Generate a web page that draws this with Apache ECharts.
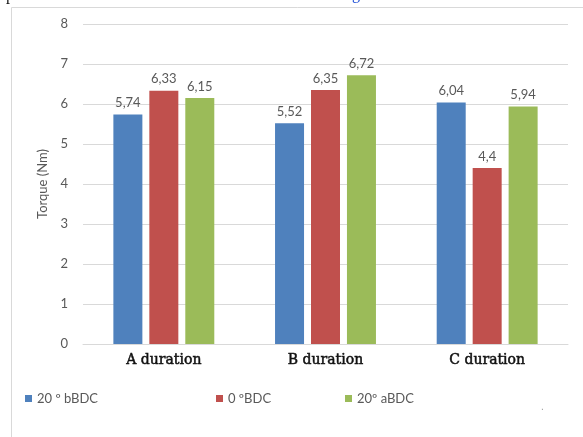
<!DOCTYPE html>
<html>
<head>
<meta charset="utf-8">
<script src="https://cdn.jsdelivr.net/npm/echarts@6/dist/echarts.min.js"></script>
<style>
  html, body { margin: 0; padding: 0; background: #fff; }
  #chart { width: 583px; height: 437px; }
</style>
</head>
<body>
<div id="chart"></div>
<script>
// Torque per injection duration for three timing settings
var categories = ['A duration', 'B duration', 'C duration'];
var seriesNames = ['20 \u00ba bBDC', '0 \u00baBDC', '20\u00ba aBDC'];
var bBDC20 = [5.74, 5.52, 6.04];
var BDC0 = [6.33, 6.35, 4.4];
var aBDC20 = [6.15, 6.72, 5.94];
var yTicks = [0, 1, 2, 3, 4, 5, 6, 7, 8];

var colors = ['#4f81bd', '#c0504d', '#9bbb59'];
var sans = 'Lato, "Open Sans", sans-serif';

function commaLabel(p) {
  return String(p.value).replace('.', ',');
}

function barSeries(name, values, color) {
  return {
    name: name,
    type: 'bar',
    data: values,
    barWidth: 29,
    barGap: '24%',
    itemStyle: { color: color },
    label: {
      show: true,
      position: 'top',
      distance: 5,
      color: '#595959',
      fontFamily: sans,
      fontSize: 13,
      formatter: commaLabel
    }
  };
}

function legendAt(left, name) {
  return {
    left: left,
    top: 392,
    data: [name],
    icon: 'rect',
    itemWidth: 7,
    itemHeight: 7,
    itemGap: 0,
    textStyle: { color: '#595959', fontFamily: sans, fontSize: 13, padding: [0, 0, 0, 0] },
    padding: 0
  };
}

var chart = echarts.init(document.getElementById('chart'));
chart.setOption({
  animation: false,
  backgroundColor: '#ffffff',
  grid: { left: 83, right: 15, top: 24, bottom: 93 },
  legend: [
    legendAt(25, seriesNames[0]),
    legendAt(216, seriesNames[1]),
    legendAt(345, seriesNames[2])
  ],
  xAxis: {
    type: 'category',
    data: categories,
    axisLine: { lineStyle: { color: '#d9d9d9', width: 1 } },
    axisTick: { show: false },
    axisLabel: {
      color: '#111111',
      fontFamily: '"DejaVu Serif", serif',
      fontSize: 14,
      fontWeight: 'normal',
      textBorderColor: '#111111',
      textBorderWidth: 0.5,
      margin: 9
    }
  },
  yAxis: {
    type: 'value',
    min: yTicks[0],
    max: yTicks[yTicks.length - 1],
    interval: 1,
    name: 'Torque (Nm)',
    nameLocation: 'middle',
    nameGap: 34,
    nameTextStyle: { color: '#595959', fontFamily: sans, fontSize: 13 },
    axisLine: { show: false },
    axisTick: { show: false },
    axisLabel: { color: '#595959', fontFamily: sans, fontSize: 13, margin: 15 },
    splitLine: { lineStyle: { color: '#d9d9d9', width: 1 } }
  },
  series: [
    barSeries(seriesNames[0], bBDC20, colors[0]),
    barSeries(seriesNames[1], BDC0, colors[1]),
    barSeries(seriesNames[2], aBDC20, colors[2])
  ],
  graphic: [
    // frame of the chart area
    { type: 'line', shape: { x1: 11.5, y1: 7.5, x2: 583, y2: 7.5 }, style: { stroke: '#d9d9d9', lineWidth: 1 } },
    { type: 'line', shape: { x1: 11.5, y1: 7.5, x2: 11.5, y2: 437 }, style: { stroke: '#d9d9d9', lineWidth: 1 } },
    // text running above the frame
    { type: 'text', left: 6, top: -12, style: { text: 'p', fill: '#111', font: '16px "Liberation Serif", serif' } },
    { type: 'text', left: 352, top: -13, style: { text: 'g', fill: '#1f4fd6', font: '16px "Liberation Serif", serif' } },
    { type: 'text', left: 541, top: 402, style: { text: '.', fill: '#999', font: '10px sans-serif' } }
  ]
});
</script>
</body>
</html>
